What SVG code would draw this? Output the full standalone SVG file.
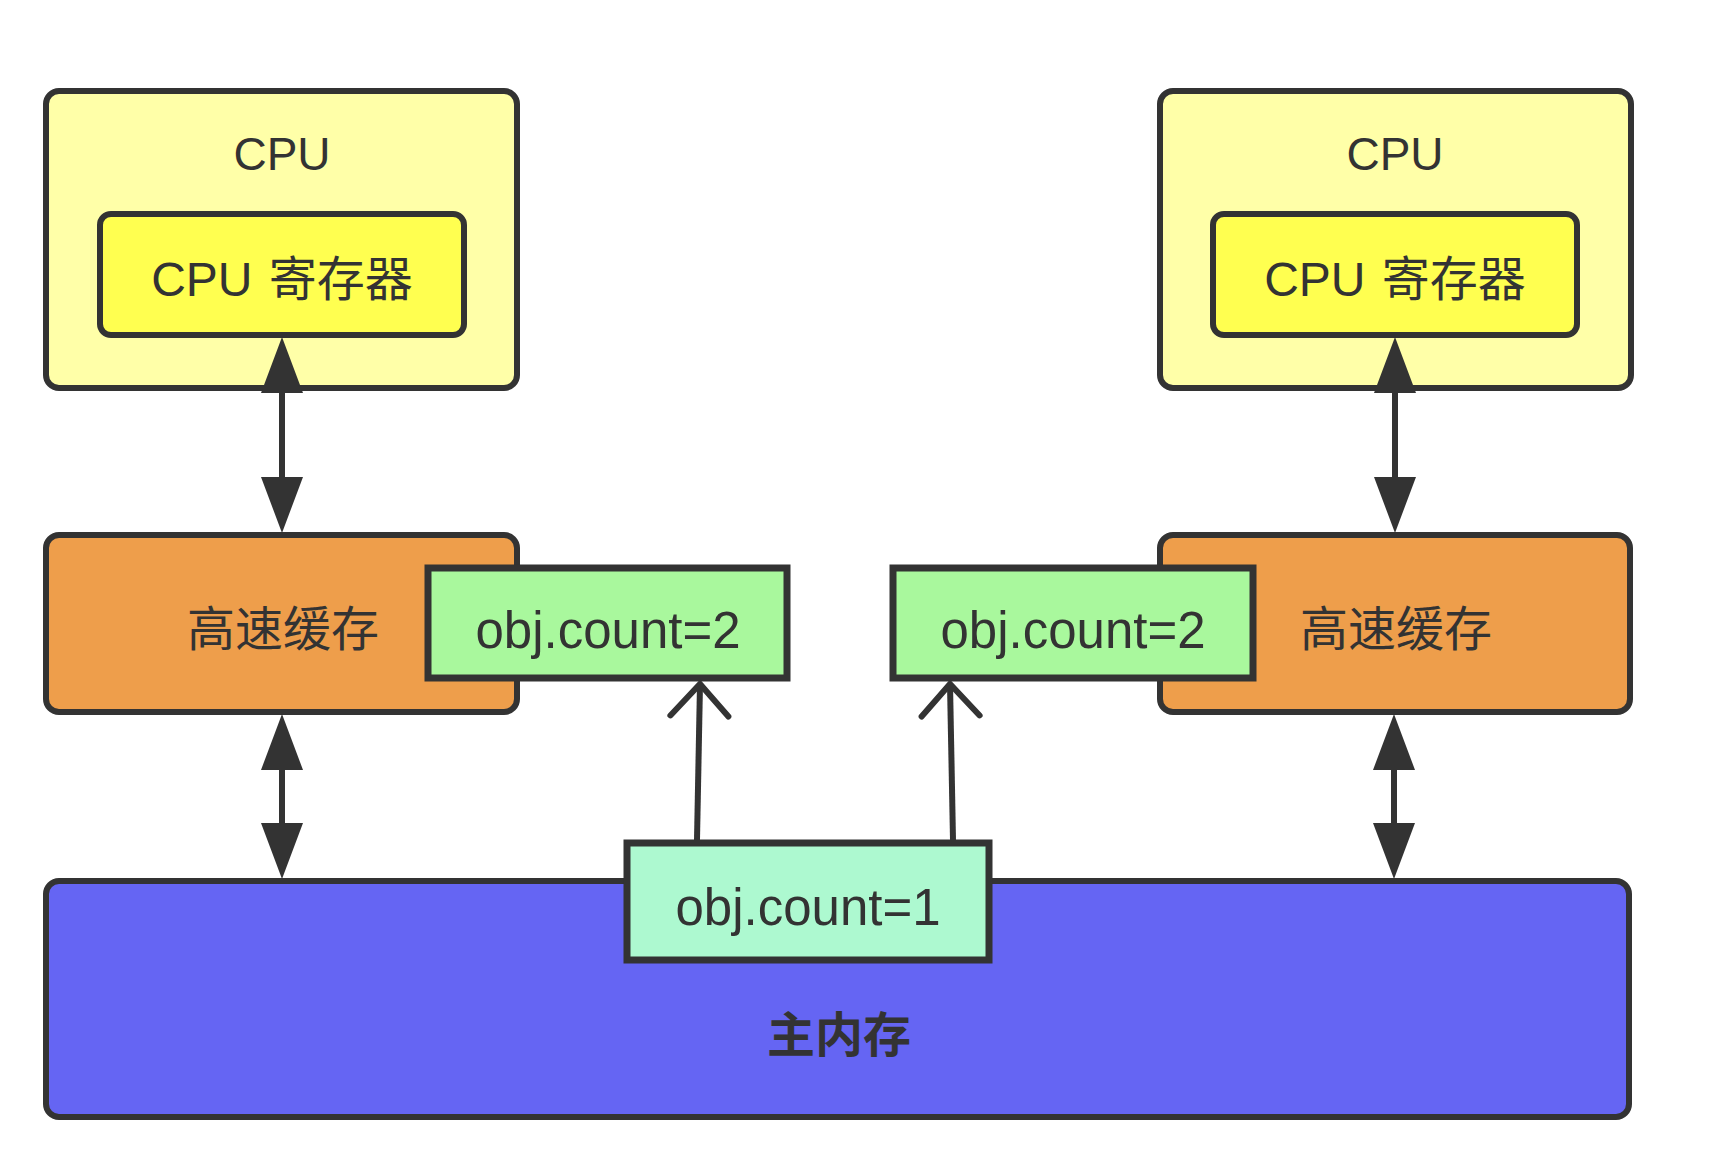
<svg xmlns="http://www.w3.org/2000/svg" width="1724" height="1174" viewBox="0 0 1724 1174">
<style>
.box{stroke:#333;stroke-width:6}
.gbox{stroke:#333;stroke-width:7}
.t{font-family:"Liberation Sans","Noto Sans CJK SC",sans-serif;fill:#333;text-anchor:middle}
.conn{stroke:#333;stroke-width:6;fill:none}
</style>
<defs>
<marker id="tri" markerUnits="userSpaceOnUse" markerWidth="56" markerHeight="42" viewBox="0 0 56 42" refX="1" refY="21" orient="auto-start-reverse" overflow="visible">
<path d="M0,0 L56,21 L0,42 Z" fill="#333"/>
</marker>
<marker id="open" markerUnits="userSpaceOnUse" markerWidth="40" markerHeight="62" viewBox="0 0 40 62" refX="36" refY="31" orient="auto" overflow="visible">
<path d="M4,2 L36,31 L4,60" fill="none" stroke="#333" stroke-width="6" stroke-linecap="round"/>
</marker>
</defs>
<rect width="1724" height="1174" fill="#ffffff"/>

<g id="cpu-left">
<rect class="box" x="46" y="91" width="471" height="297" rx="13" fill="#FFFFA8"/>
<text class="t" x="282" y="170" font-size="46">CPU</text>
</g>
<g id="reg-left">
<rect class="box" x="100" y="214" width="364" height="121" rx="11" fill="#FFFF50"/>
<text class="t" x="282" y="296" font-size="48" word-spacing="3">CPU 寄存器</text>
</g>
<g id="cpu-right">
<rect class="box" x="1160" y="91" width="471" height="297" rx="13" fill="#FFFFA8"/>
<text class="t" x="1395" y="170" font-size="46">CPU</text>
</g>
<g id="reg-right">
<rect class="box" x="1213" y="214" width="364" height="121" rx="11" fill="#FFFF50"/>
<text class="t" x="1395" y="296" font-size="48" word-spacing="3">CPU 寄存器</text>
</g>

<g id="cache-left">
<rect class="box" x="46" y="535" width="471" height="177" rx="13" fill="#EE9E4B"/>
<text class="t" x="283" y="646" font-size="48">高速缓存</text>
</g>
<g id="cache-right">
<rect class="box" x="1160" y="535" width="470" height="177" rx="13" fill="#EE9E4B"/>
<text class="t" x="1396" y="646" font-size="48">高速缓存</text>
</g>

<g id="main-memory">
<rect class="box" x="46" y="881" width="1583" height="236" rx="13" fill="#6565F3"/>
<text class="t" x="839" y="1052" font-size="48" font-weight="bold">主内存</text>
</g>

<g id="obj-left">
<rect class="gbox" x="428" y="568" width="359" height="110" fill="#A9F89D"/>
<text class="t" x="608" y="648" font-size="51">obj.count=2</text>
</g>
<g id="obj-right">
<rect class="gbox" x="893" y="568" width="360" height="110" fill="#A9F89D"/>
<text class="t" x="1073" y="648" font-size="51">obj.count=2</text>
</g>
<g id="obj-main">
<rect class="gbox" x="627" y="843" width="362" height="117" fill="#ADF9D0"/>
<text class="t" x="808" y="925" font-size="51">obj.count=1</text>
</g>

<g id="connectors">
<line class="conn" x1="282" y1="392" x2="282" y2="478" marker-start="url(#tri)" marker-end="url(#tri)"/>
<line class="conn" x1="1395" y1="392" x2="1395" y2="478" marker-start="url(#tri)" marker-end="url(#tri)"/>
<line class="conn" x1="282" y1="769" x2="282" y2="824" marker-start="url(#tri)" marker-end="url(#tri)"/>
<line class="conn" x1="1394" y1="769" x2="1394" y2="824" marker-start="url(#tri)" marker-end="url(#tri)"/>
<line class="conn" x1="697" y1="840" x2="700" y2="684" marker-end="url(#open)"/>
<line class="conn" x1="953" y1="840" x2="950" y2="684" marker-end="url(#open)"/>
</g>
</svg>
